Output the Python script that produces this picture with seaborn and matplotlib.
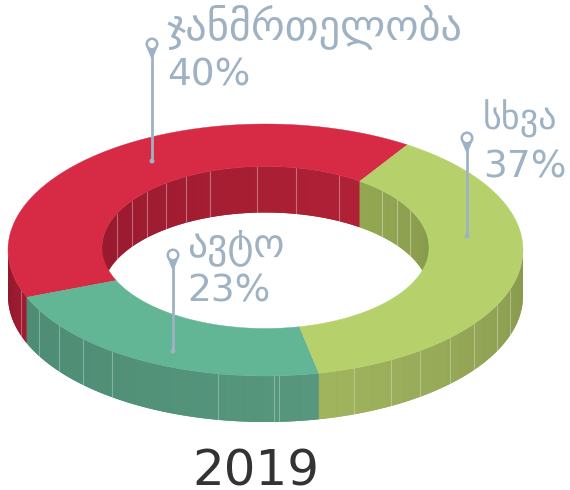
import numpy as np
import seaborn as sns
import matplotlib.pyplot as plt
from matplotlib.patches import Ellipse

sns.set_theme(style="white")
plt.rcParams['font.family'] = ['DejaVu Sans']

# chart values
labels = ['ჯანმრთელობა', 'ავტო', 'სხვა']
pct_labels = ['40%', '23%', '37%']
# the drawn slices are not exactly the printed numbers
shares = [40.4, 22.2, 37.4]
year = '2019'

top_colors = ['#D62A45', '#62B595', '#B6D06C']
# wall colours, from low angle to high angle of each piece
outer_wall = [('#8F182C', '#A01C32'), ('#4E8C74', '#56977E'), ('#A0B45E', '#88994F')]
inner_wall = [('#B02136', '#96192E'), ('#4E8C74', '#56977E'), ('#86994C', '#93A753')]

START = 56.6
CX = 265.5
OUT_A, OUT_B, OUT_CY = 257.5, 126, 250
IN_A, IN_B, IN_CY = 163.5, 81, 247.5
DEPTH = 46
TEXT_COL = '#9FB2C3'
# inner edge of the ring is cut at slightly other angles
inner_shift = [-1.8, 2.0, 0.0, -1.8]

# faint seams on the walls
outer_seams = [21, 39, 59, 83, 112, 218, 274, 279, 354, 391, 420, 450, 474, 497, 510]
inner_seams = [117, 132, 147, 166, 186, 210, 257, 296, 339, 382, 397, 410]


def arc(a, b, cy, t0, t1):
    t = np.radians(np.linspace(t0, t1, 80))
    return CX + a * np.cos(t), cy - b * np.sin(t)


fig, ax = plt.subplots(figsize=(5.7, 4.9), dpi=100)
ax.set_position([0, 0, 1, 1])
ax.set_xlim(0, 570)
ax.set_ylim(490, 0)
ax.axis('off')

# slice angles from the shares
spans = np.array(shares) / sum(shares) * 360
starts = START + np.concatenate([[0], np.cumsum(spans)[:-1]])
slices = list(zip(starts, starts + spans))


def draw_wall(a, b, cy, t0, t1, col0, col1):
    n = max(int(abs(t1 - t0) / 4), 1)
    pal = sns.blend_palette([col0, col1], n)
    # solid backing first, so no white shows between the gradient steps
    x, y = arc(a, b, cy, t0, t1)
    ax.fill(np.r_[x, x[::-1]], np.r_[y, y[::-1] + DEPTH], color=pal[n // 2], lw=0, zorder=1)
    edges = np.linspace(t0, t1, n + 1)
    for k in range(n):
        x, y = arc(a, b, cy, edges[k], edges[k + 1])
        ax.fill(np.r_[x, x[::-1]], np.r_[y, y[::-1] + DEPTH], color=pal[k], lw=0, zorder=1)


# inner wall: upper half of the hole
for i, ((t0, t1), cols) in enumerate(zip(slices, inner_wall)):
    t0, t1 = t0 + inner_shift[i], t1 + inner_shift[i + 1]
    for lo, hi in [(t0, t1), (t0 - 360, t1 - 360)]:
        lo2, hi2 = max(lo, 0), min(hi, 180)
        if hi2 > lo2:
            draw_wall(IN_A, IN_B, IN_CY, lo2, hi2, cols[0], cols[1])

for x in inner_seams:
    y0 = IN_CY - IN_B * np.sqrt(1 - ((x - CX) / IN_A) ** 2)
    ax.plot([x, x], [y0, y0 + DEPTH], color='white', alpha=0.35, lw=0.8, zorder=1.5)

# outer wall: lower half of the ring
for (t0, t1), cols in zip(slices, outer_wall):
    for lo, hi in [(t0, t1), (t0 - 360, t1 - 360)]:
        lo2, hi2 = max(lo, -180), min(hi, 0)
        if hi2 > lo2:
            draw_wall(OUT_A, OUT_B, OUT_CY, lo2, hi2, cols[0], cols[1])

for x in outer_seams:
    y0 = OUT_CY + OUT_B * np.sqrt(1 - ((x - CX) / OUT_A) ** 2)
    ax.plot([x, x], [y0, y0 + DEPTH], color='white', alpha=0.3, lw=0.8, zorder=1.5)

# top face of the ring
for i, ((t0, t1), col) in enumerate(zip(slices, top_colors)):
    xo, yo = arc(OUT_A, OUT_B, OUT_CY, t0, t1)
    xi, yi = arc(IN_A, IN_B, IN_CY, t1 + inner_shift[i + 1], t0 + inner_shift[i])
    ax.fill(np.r_[xo, xi], np.r_[yo, yi], color=col, lw=0.3, ec=col, zorder=2)


def pin(x, y0, y1):
    ax.plot([x, x], [y0, y1], color=TEXT_COL, lw=2, zorder=3, solid_capstyle='butt')
    ax.fill([x - 5.5, x + 5.5, x + 1, x - 1], [y0 + 3, y0 + 3, y0 + 14, y0 + 14],
            color=TEXT_COL, lw=0, zorder=3)
    ax.add_patch(Ellipse((x, y0), 10.5, 10.5, fc='white', ec=TEXT_COL, lw=1.8, zorder=4))
    ax.add_patch(Ellipse((x, y1), 5, 5, fc=TEXT_COL, ec='none', zorder=4))


pin(152, 44, 161)
pin(173, 255, 351)
pin(467, 138, 236)


def label(name, pct, x, y_name, y_val, size):
    ax.text(x, y_name, name, color=TEXT_COL, fontsize=size, va='baseline', ha='left', zorder=5)
    ax.text(x, y_val, pct, color=TEXT_COL, fontsize=27, va='baseline', ha='left', zorder=5)


label(labels[0], pct_labels[0], 167, 40, 85, 30.5)
label(labels[1], pct_labels[1], 187, 256, 301, 28.5)
label(labels[2], pct_labels[2], 483, 130, 177, 26)

ax.text(192, 485, year, color='#333333', fontsize=36, va='baseline', ha='left', zorder=5)

fig.savefig('out.png', dpi=100)
